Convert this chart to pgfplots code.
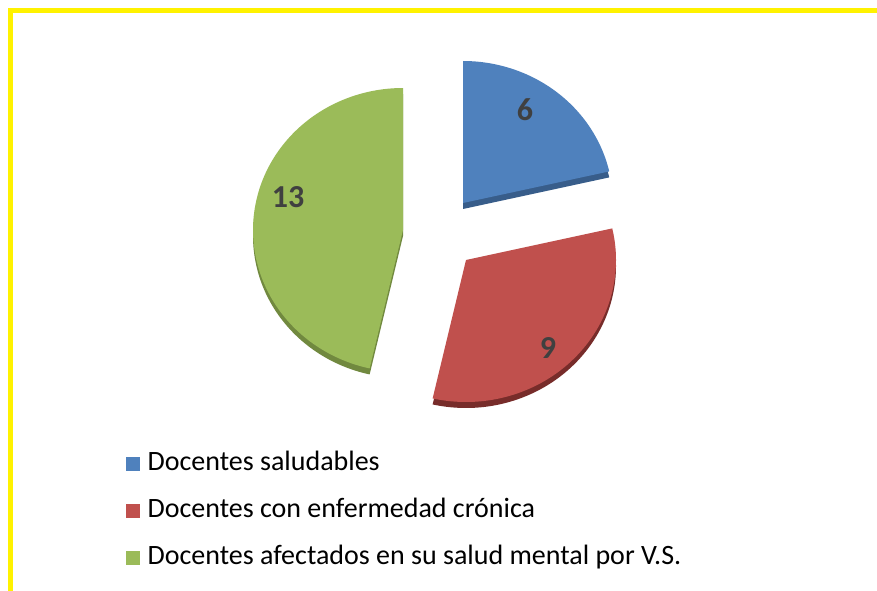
\documentclass[border=0pt]{standalone}
\usepackage{fontspec}
\setmainfont{Carlito}
\usepackage{pgfplots}
\pgfplotsset{compat=1.18}
\usepackage{pgfplotstable}
\definecolor{cBlue}{HTML}{4F81BD}
\definecolor{cBlueD}{HTML}{385D8A}
\definecolor{cRed}{HTML}{C0504D}
\definecolor{cRedD}{HTML}{772C2A}
\definecolor{cGreen}{HTML}{9BBB59}
\definecolor{cGreenD}{HTML}{71893F}
\definecolor{cLab}{HTML}{404040}
% counts
\def\vA{6}\def\vB{9}\def\vC{13}
\pgfmathsetmacro{\tot}{\vA+\vB+\vC}
\pgfmathsetmacro{\aA}{90}
\pgfmathsetmacro{\aB}{90-360*\vA/\tot}
\pgfmathsetmacro{\aC}{\aB-360*\vB/\tot}
\pgfmathsetmacro{\aD}{\aC-360*\vC/\tot}
\def\rx{150}\def\ry{142}\def\dep{6}
\begin{document}
\begin{tikzpicture}
\begin{axis}[
  scale only axis, width=877pt, height=590pt,
  xmin=0, xmax=877, ymin=0, ymax=590,
  hide axis, clip=true,
  legend style={draw=none, fill=none, inner sep=0pt, column sep=8pt, row sep=20pt,
    font=\fontsize{28}{32}\selectfont,
    nodes={inner sep=0pt, anchor=west, text height=20pt, text depth=7pt},
    at={(axis cs:126,140)}, anchor=north west},
  legend cell align=left,
]
\addplot[forget plot, draw=none, fill=white] coordinates {(0,0) (877,0) (877,590) (0,590)} -- cycle;
\addplot[forget plot, yellow, line width=5pt] coordinates {(10.5,-10) (10.5,579.5) (900,579.5)};
% blue slice
\addplot[forget plot, draw=none, fill=cBlueD, domain=\aB:\aA, samples=80, variable=\t]
  ({463+\rx*cos(\t)}, {387-\dep+\ry*sin(\t)}) -- (axis cs:463,387-\dep) -- cycle;
\addplot[forget plot, draw=none, fill=cBlue, domain=\aB:\aA, samples=80, variable=\t]
  ({463+\rx*cos(\t)}, {387+\ry*sin(\t)}) -- (axis cs:463,387) -- cycle;
% red slice
\addplot[forget plot, draw=none, fill=cRedD, domain=\aC:\aB, samples=100, variable=\t]
  ({466+\rx*cos(\t)}, {330-\dep+\ry*sin(\t)}) -- (axis cs:466,330-\dep) -- cycle;
\addplot[forget plot, draw=none, fill=cRed, domain=\aC:\aB, samples=100, variable=\t]
  ({466+\rx*cos(\t)}, {330+\ry*sin(\t)}) -- (axis cs:466,330) -- cycle;
% green slice
\addplot[forget plot, draw=none, fill=cGreenD, domain=\aD:\aC, samples=120, variable=\t]
  ({403+\rx*cos(\t)}, {360-\dep+\ry*sin(\t)}) -- (axis cs:403,360-\dep) -- cycle;
\addplot[forget plot, draw=none, fill=cGreen, domain=\aD:\aC, samples=120, variable=\t]
  ({403+\rx*cos(\t)}, {360+\ry*sin(\t)}) -- (axis cs:403,360) -- cycle;
% labels
\node[font=\fontsize{32}{34}\selectfont\bfseries, text=cLab] at (axis cs:525,480) {\vA};
\node[font=\fontsize{32}{34}\selectfont\bfseries, text=cLab] at (axis cs:548,242) {\vB};
\node[font=\fontsize{32}{34}\selectfont\bfseries, text=cLab] at (axis cs:288,393) {\vC};
% legend
\addlegendimage{legend image code/.code={\fill[cBlue] (0pt,-6.5pt) rectangle (13pt,6.5pt);}}
\addlegendentry{Docentes saludables}
\addlegendimage{legend image code/.code={\fill[cRed] (0pt,-6.5pt) rectangle (13pt,6.5pt);}}
\addlegendentry{Docentes con enfermedad crónica}
\addlegendimage{legend image code/.code={\fill[cGreen] (0pt,-6.5pt) rectangle (13pt,6.5pt);}}
\addlegendentry{Docentes afectados en su salud mental por V.S.}
\end{axis}
\end{tikzpicture}
\end{document}
